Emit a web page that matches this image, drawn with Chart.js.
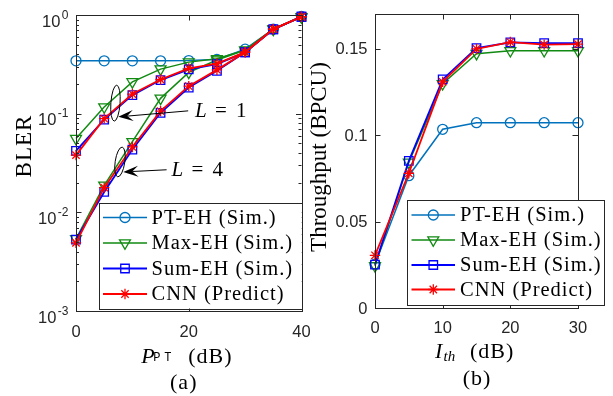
<!DOCTYPE html>
<html><head><meta charset="utf-8">
<script src="https://cdn.jsdelivr.net/npm/chart.js@4.4.1/dist/chart.umd.min.js"></script>
<style>
html,body{margin:0;padding:0;background:#fff;}
#wrap{position:relative;width:613px;height:396px;overflow:hidden;background:#fff;}
canvas{position:absolute;left:0;top:0;}
</style></head><body>
<div id="wrap"><canvas id="c1" width="613" height="396"></canvas><canvas id="c2" width="613" height="396"></canvas></div>
<script>
// ---------- data ----------
const pptDb = [0,5,10,15,20,25,30,35,40];
const bler_pt     = [0.343,0.343,0.343,0.343,0.345,0.355,0.45,0.72,0.97];
const bler_max_L1 = [0.056,0.117,0.21,0.283,0.333,0.36,0.44,0.72,0.955];
const bler_max_L4 = [0.0054,0.0188,0.052,0.143,0.262,0.35,0.44,0.72,0.955];
const bler_sum_L1 = [0.042,0.087,0.154,0.219,0.281,0.318,0.418,0.716,0.96];
const bler_sum_L4 = [0.0053,0.0161,0.0433,0.102,0.184,0.272,0.418,0.716,0.96];
const bler_cnn_L1 = [0.038,0.089,0.158,0.222,0.288,0.322,0.42,0.72,0.96];
const bler_cnn_L4 = [0.0049,0.0178,0.046,0.106,0.19,0.278,0.42,0.72,0.96];

const ithDb = [0,5,10,15,20,25,30];
const thr_pt  = [0.0255,0.0766,0.1034,0.1072,0.1072,0.1072,0.1072];
const thr_max = [0.0245,0.0843,0.1297,0.1471,0.1488,0.1488,0.1488];
const thr_sum = [0.0252,0.0852,0.1322,0.1503,0.1536,0.1532,0.1532];
const thr_cnn = [0.0306,0.078,0.1308,0.1498,0.1538,0.1523,0.1526];

const seriesNames = ['PT-EH (Sim.)','Max-EH (Sim.)','Sum-EH (Sim.)','CNN (Predict)'];
const blerTicks = [0.001,0.01,0.1,1];
const blerTickExp = ['-3','-2','-1','0'];
const pptTicks = [0,20,40];
const ithTicks = [0,10,20,30];
const thrTicks = [0,0.05,0.1,0.15];
const thrTickLabels = ['0','0.05','0.1','0.15'];
const annotLabels = ['1','4'];

// ---------- styles ----------
const styles = [
  {color:'#0072BD', pointStyle:'circle',   radius:5,   rotation:0,   width:1.5},
  {color:'#118A11', pointStyle:'triangle', radius:6.3, rotation:180, width:1.5},
  {color:'#0000FF', pointStyle:'rect',     radius:6,   rotation:0,   width:1.8},
  {color:'#FF0000', pointStyle:'star',     radius:5.2, rotation:0,   width:1.8}
];
const AX = '#262626';
const SANS = '"Liberation Sans", Arial, sans-serif';
const SERIF = '"Liberation Serif", "Times New Roman", serif';
const MONO = '"Liberation Mono", monospace';

function ds(xs, ys, s, order){
  return {data: xs.map((x,i)=>({x:x, y:ys[i]})), borderColor:s.color, backgroundColor:'rgba(0,0,0,0)',
    pointBackgroundColor:'rgba(0,0,0,0)', pointBorderColor:s.color, pointStyle:s.pointStyle,
    pointRadius:s.radius, pointRotation:s.rotation, borderWidth:s.width, pointBorderWidth:1.3,
    tension:0, clip:false, order:order};
}

function hl(ctx,x0,x1,y){y=Math.round(y)+0.5;ctx.beginPath();ctx.moveTo(x0,y);ctx.lineTo(x1,y);ctx.stroke();}
function vl(ctx,x,y0,y1){x=Math.round(x)+0.5;ctx.beginPath();ctx.moveTo(x,y0);ctx.lineTo(x,y1);ctx.stroke();}

function drawLegend(ctx, L){
  ctx.save();
  ctx.fillStyle='#fff'; ctx.fillRect(L.x0,L.y0,L.x1-L.x0,L.y1-L.y0);
  ctx.strokeStyle=AX; ctx.lineWidth=1;
  ctx.strokeRect(Math.round(L.x0)+0.5,Math.round(L.y0)+0.5,Math.round(L.x1-L.x0),Math.round(L.y1-L.y0));
  seriesNames.forEach((name,i)=>{
    const s=styles[i], y=L.rows[i];
    ctx.strokeStyle=s.color; ctx.lineWidth=s.width;
    ctx.beginPath(); ctx.moveTo(L.lx0,y); ctx.lineTo(L.lx1,y); ctx.stroke();
    ctx.lineWidth=1.3; ctx.fillStyle='rgba(0,0,0,0)';
    Chart.helpers.drawPoint(ctx,{pointStyle:s.pointStyle,radius:s.radius,rotation:s.rotation,borderWidth:1.3},L.mx,y);
    ctx.fillStyle='#000'; ctx.font='20.5px '+SERIF; ctx.letterSpacing='1px';
    ctx.textAlign='left'; ctx.textBaseline='middle';
    ctx.fillText(name,L.tx,y+1);
    ctx.letterSpacing='0px';
  });
  ctx.restore();
}

function drawArrow(ctx,x0,y0,x1,y1){
  const dx=x1-x0, dy=y1-y0, len=Math.hypot(dx,dy), ux=dx/len, uy=dy/len, nx=-uy, ny=ux;
  const HL=15, HW=5.5;
  ctx.beginPath(); ctx.moveTo(x0,y0); ctx.lineTo(x1-ux*HL*0.6,y1-uy*HL*0.6); ctx.stroke();
  ctx.beginPath();
  ctx.moveTo(x1,y1);
  ctx.lineTo(x1-ux*HL+nx*HW, y1-uy*HL+ny*HW);
  ctx.lineTo(x1-ux*HL*0.6, y1-uy*HL*0.6);
  ctx.lineTo(x1-ux*HL-nx*HW, y1-uy*HL-ny*HW);
  ctx.closePath(); ctx.fill();
}

function drawMathL(ctx,val,x,y){
  ctx.font='italic 21px '+SERIF; ctx.textAlign='left'; ctx.textBaseline='alphabetic';
  ctx.fillText('L',x,y);
  ctx.font='21px '+SERIF;
  ctx.fillText('=',x+20,y);
  ctx.fillText(val,x+41,y);
}

// ---------- left chart plugin ----------
const leftDeco = {
  id:'leftDeco',
  afterDraw(chart){
    const ctx=chart.ctx, a=chart.chartArea, X=chart.scales.x, Y=chart.scales.y;
    ctx.save();
    ctx.strokeStyle=AX; ctx.lineWidth=1;
    for(let d=-3; d<0; d++){
      for(let m=2;m<=9;m++){
        const py=Y.getPixelForValue(m*Math.pow(10,d));
        hl(ctx,a.left,a.left+3,py); hl(ctx,a.right-3,a.right,py);
      }
    }
    blerTicks.forEach(v=>{const py=Y.getPixelForValue(v); hl(ctx,a.left,a.left+5.5,py); hl(ctx,a.right-5.5,a.right,py);});
    pptTicks.forEach(v=>{const px=X.getPixelForValue(v); vl(ctx,px,a.bottom-5.5,a.bottom); vl(ctx,px,a.top,a.top+5.5);});
    ctx.strokeRect(Math.round(a.left)+0.5,Math.round(a.top)+0.5,Math.round(a.right-a.left),Math.round(a.bottom-a.top));
    ctx.fillStyle=AX;
    blerTicks.forEach((v,i)=>{
      const py=Y.getPixelForValue(v), rx=a.left-7.5;
      ctx.textBaseline='alphabetic'; ctx.textAlign='right';
      ctx.font='12px '+SANS;
      const ew=ctx.measureText(blerTickExp[i]).width;
      ctx.fillText(blerTickExp[i],rx,py+3.5);
      ctx.font='16.5px '+SANS;
      ctx.fillText('10',rx-ew-1.5,py+11.5);
    });
    ctx.font='16.5px '+SANS; ctx.textAlign='center'; ctx.textBaseline='middle';
    pptTicks.forEach(v=>{ctx.fillText(String(v),X.getPixelForValue(v),a.bottom+21);});
    ctx.fillStyle='#000';
    ctx.save(); ctx.translate(25,146); ctx.rotate(-Math.PI/2);
    ctx.font='23px '+SERIF; ctx.letterSpacing='1px'; ctx.textAlign='center'; ctx.textBaseline='middle';
    ctx.fillText('BLER',0,0); ctx.restore();
    ctx.letterSpacing='0px';
    const cx=(a.left+a.right)/2;
    ctx.textAlign='left'; ctx.textBaseline='alphabetic';
    ctx.font='italic 22px '+SERIF; ctx.fillText('P',cx-47.5,363);
    ctx.font='12px '+MONO; ctx.fillText('P',cx-35.5,361); ctx.fillText('T',cx-24.5,361);
    ctx.font='22px '+SERIF; ctx.letterSpacing='1px'; ctx.fillText('(dB)',cx-0.5,363);
    ctx.textAlign='center'; ctx.fillText('(a)',cx-5,389);
    ctx.letterSpacing='0px';
    ctx.strokeStyle='#000'; ctx.fillStyle='#000'; ctx.lineWidth=1;
    ctx.beginPath(); ctx.ellipse(X.getPixelForValue(7.0),Y.getPixelForValue(0.1278),4.6,18,0.07,0,Math.PI*2); ctx.stroke();
    drawArrow(ctx,X.getPixelForValue(19.9),Y.getPixelForValue(0.1068),X.getPixelForValue(7.5),Y.getPixelForValue(0.0928));
    drawMathL(ctx,annotLabels[0],X.getPixelForValue(21.1),Y.getPixelForValue(0.0922));
    ctx.beginPath(); ctx.ellipse(X.getPixelForValue(7.8),Y.getPixelForValue(0.0324),4.8,15,0.15,0,Math.PI*2); ctx.stroke();
    drawArrow(ctx,X.getPixelForValue(16.07),Y.getPixelForValue(0.0270),X.getPixelForValue(8.38),Y.getPixelForValue(0.02566));
    drawMathL(ctx,annotLabels[1],X.getPixelForValue(16.96),Y.getPixelForValue(0.0232));
    ctx.restore();
    drawLegend(ctx,{x0:99,y0:203,x1:301.5,y1:308.5,rows:[217.5,243,268.5,294],lx0:103,lx1:147,mx:125,tx:151.5});
  }
};

// ---------- right chart plugin ----------
const rightDeco = {
  id:'rightDeco',
  afterDraw(chart){
    const ctx=chart.ctx, a=chart.chartArea, X=chart.scales.x, Y=chart.scales.y;
    ctx.save();
    ctx.strokeStyle=AX; ctx.lineWidth=1;
    thrTicks.forEach(v=>{const py=Y.getPixelForValue(v); hl(ctx,a.left,a.left+5.5,py); hl(ctx,a.right-5.5,a.right,py);});
    ithTicks.forEach(v=>{const px=X.getPixelForValue(v); vl(ctx,px,a.bottom-5.5,a.bottom); vl(ctx,px,a.top,a.top+5.5);});
    ctx.strokeRect(Math.round(a.left)+0.5,Math.round(a.top)+0.5,Math.round(a.right-a.left),Math.round(a.bottom-a.top));
    ctx.fillStyle=AX; ctx.font='16.5px '+SANS;
    ctx.textAlign='right'; ctx.textBaseline='middle';
    thrTicks.forEach((v,i)=>{ctx.fillText(thrTickLabels[i],a.left-7.5,Y.getPixelForValue(v)+1);});
    ctx.textAlign='center';
    ithTicks.forEach(v=>{ctx.fillText(String(v),X.getPixelForValue(v),a.bottom+20);});
    ctx.fillStyle='#000';
    ctx.save(); ctx.translate(320,157); ctx.rotate(-Math.PI/2);
    ctx.font='23px '+SERIF; ctx.letterSpacing='0px'; ctx.textAlign='center'; ctx.textBaseline='middle';
    ctx.fillText('Throughput (BPCU)',0,0); ctx.restore();
    const cx=(a.left+a.right)/2;
    ctx.textAlign='left'; ctx.textBaseline='alphabetic';
    ctx.font='italic 22px '+SERIF; ctx.fillText('I',cx-41.5,358);
    ctx.font='italic 15px '+SERIF; ctx.fillText('th',cx-33,361);
    ctx.font='22px '+SERIF; ctx.letterSpacing='1px'; ctx.fillText('(dB)',cx-6.5,358);
    ctx.textAlign='center'; ctx.fillText('(b)',cx+0.5,385);
    ctx.letterSpacing='0px';
    ctx.restore();
    drawLegend(ctx,{x0:407,y0:200,x1:603.5,y1:305,rows:[215,240,265,289.5],lx0:411.5,lx1:455,mx:433.3,tx:460});
  }
};

const common = (pad)=>({responsive:false, animation:false, events:[],
  layout:{padding:pad}, plugins:{legend:{display:false}, tooltip:{enabled:false}}});

const o1 = common({left:76, top:15, right:613-301.5, bottom:396-311});
o1.scales = {x:{type:'linear',min:0,max:40,display:false}, y:{type:'logarithmic',min:0.001,max:1,display:false}};
new Chart(document.getElementById('c1'), {type:'line',
  data:{datasets:[
    ds(pptDb,bler_pt,styles[0],7),
    ds(pptDb,bler_max_L1,styles[1],6), ds(pptDb,bler_max_L4,styles[1],5),
    ds(pptDb,bler_sum_L1,styles[2],4), ds(pptDb,bler_sum_L4,styles[2],3),
    ds(pptDb,bler_cnn_L1,styles[3],2), ds(pptDb,bler_cnn_L4,styles[3],1)
  ]}, options:o1, plugins:[leftDeco]});

const o2 = common({left:375, top:14, right:613-578, bottom:396-308.3});
o2.scales = {x:{type:'linear',min:0,max:30,display:false}, y:{type:'linear',min:0,max:0.17,display:false}};
new Chart(document.getElementById('c2'), {type:'line',
  data:{datasets:[
    ds(ithDb,thr_pt,styles[0],4), ds(ithDb,thr_max,styles[1],3),
    ds(ithDb,thr_sum,styles[2],2), ds(ithDb,thr_cnn,styles[3],1)
  ]}, options:o2, plugins:[rightDeco]});
</script>
</body></html>
